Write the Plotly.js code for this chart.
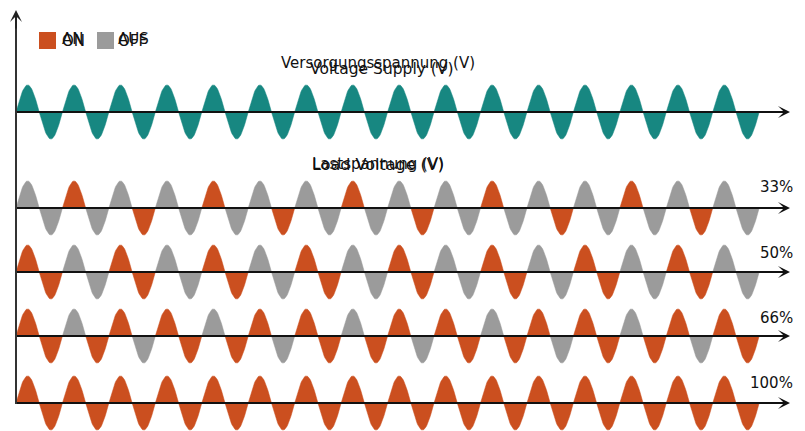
<!DOCTYPE html>
<html><head><meta charset="utf-8">
<script src="https://cdn.plot.ly/plotly-3.0.1.min.js"></script>
<style>html,body{margin:0;padding:0;background:#fff}</style>
</head><body><div id="chart" style="width:805px;height:431px"></div>
<script>
// ---- data ----
const cycles = 16;                       // full mains cycles shown
const rowLabels = ['33%', '50%', '66%', '100%'];
// per half-cycle state (1 = ON / conducting, 0 = OFF)
const load33  = [0,0,1,0,0,1,0,0,1,0,0,1,0,0,1,0,0,1,0,0,1,0,0,1,0,0,1,0,0,1,0,0];
const load50  = [1,1,0,0,1,1,0,0,1,1,0,0,1,1,0,0,1,1,0,0,1,1,0,0,1,1,0,0,1,1,0,0];
const load66  = [1,1,0,1,1,0,1,1,0,1,1,0,1,1,0,1,1,0,1,1,0,1,1,0,1,1,0,1,1,0,1,1];
const load100 = [1,1,1,1,1,1,1,1,1,1,1,1,1,1,1,1,1,1,1,1,1,1,1,1,1,1,1,1,1,1,1,1];
const legendEN = ['ON', 'OFF'];
const legendDE = ['AN', 'AUS'];
const supplyTitle = ['Voltage Supply (V)', 'Versorgungsspannung (V)'];
const loadTitle = ['Load Voltage (V)', 'Lastspannung (V)'];

// ---- style / layout constants ----
const TEAL = '#178781', ORANGE = '#CB4F1F', GRAY = '#9B9B9B';
const W = 805, H = 431;
const PX_T = 46.45, X0 = 16;      // px per cycle, x pixel of t=0
const PX_V = 27, Y0 = 403;        // px per volt unit, y pixel of v=0 (bottom row)
const base = {supply: (Y0-112)/PX_V, r33: (Y0-208)/PX_V, r50: (Y0-272)/PX_V, r66: (Y0-336)/PX_V, r100: 0};
const loads = [[load33, base.r33], [load50, base.r50], [load66, base.r66], [load100, base.r100]];

function halves(states, want, b) {
  const xs = [], ys = [];
  const N = 30;
  states.forEach((s, h) => {
    if (s !== want) return;
    for (let i = 0; i <= N; i++) {
      const t = h/2 + (i/N)*0.5;
      xs.push(t); ys.push(b + Math.sin(2*Math.PI*t));
    }
    xs.push(null); ys.push(null);
  });
  return {xs, ys};
}
function fillTrace(d, color) {
  return {x: d.xs, y: d.ys, type: 'scatter', mode: 'lines', fill: 'toself',
    fillcolor: color, line: {color: color, width: 0.5}, hoverinfo: 'skip', showlegend: false};
}

const traces = [];
const supplyStates = new Array(cycles*2).fill(1);
traces.push(fillTrace(halves(supplyStates, 1, base.supply), TEAL));
loads.forEach(([st, b]) => {
  traces.push(fillTrace(halves(st, 0, b), GRAY));
  traces.push(fillTrace(halves(st, 1, b), ORANGE));
});

const xTip = (790 - X0)/PX_T;
const yTip = (Y0 - 10)/PX_V;
const shapes = [];
const annotations = [];
[base.supply, base.r33, base.r50, base.r66, base.r100].forEach(b => {
  shapes.push({type: 'line', xref: 'x', yref: 'y', x0: 0, x1: xTip - 0.1, y0: b, y1: b,
    line: {color: '#111', width: 2}});
  annotations.push({x: xTip, y: b, xref: 'x', yref: 'y', text: '', showarrow: true,
    arrowhead: 3, arrowsize: 1, arrowwidth: 2, arrowcolor: '#111', ax: -20, ay: 0});
});
shapes.push({type: 'line', xref: 'x', yref: 'y', x0: 0, x1: 0, y0: -0.04, y1: yTip - 0.2,
  line: {color: '#333', width: 2}});
annotations.push({x: 0, y: yTip, xref: 'x', yref: 'y', text: '', showarrow: true,
  arrowhead: 3, arrowsize: 1, arrowwidth: 2, arrowcolor: '#222', ax: 0, ay: 20});

// legend squares
function px(x) { return x / W; }
function py(y) { return 1 - y / H; }
shapes.push({type: 'rect', xref: 'paper', yref: 'paper', x0: px(39), x1: px(56), y0: py(49), y1: py(32),
  fillcolor: ORANGE, line: {width: 0}});
shapes.push({type: 'rect', xref: 'paper', yref: 'paper', x0: px(97), x1: px(114), y0: py(49), y1: py(32),
  fillcolor: GRAY, line: {width: 0}});

const F = 'DejaVu Sans, Verdana, sans-serif';
function txt(text, x, y, xa, size) {
  annotations.push({text: text, x: px(x), y: py(y), xref: 'paper', yref: 'paper',
    xanchor: xa, yanchor: 'middle', showarrow: false, font: {family: F, size: size, color: '#111'}});
}
txt(legendEN[0], 60, 41, 'left', 15);
txt(legendDE[0], 60, 39, 'left', 15);
txt(legendEN[1], 116, 41, 'left', 15);
txt(legendDE[1], 116, 39, 'left', 15);
txt(supplyTitle[1], 378, 63, 'center', 15);
txt(supplyTitle[0], 382, 69, 'center', 15.5);
txt(loadTitle[1], 378, 164, 'center', 15);
txt(loadTitle[0], 378, 164, 'center', 16);
const labelY = [186.5, 252.5, 317.5, 382.5];
rowLabels.forEach((l, i) => txt(l, 795, labelY[i], 'right', 15));

const layout = {
  width: W, height: H, margin: {l: 0, r: 0, t: 0, b: 0},
  paper_bgcolor: '#fff', plot_bgcolor: '#fff', showlegend: false,
  xaxis: {range: [-X0/PX_T, (W - X0)/PX_T], visible: false, fixedrange: true},
  yaxis: {range: [-(H - Y0)/PX_V, Y0/PX_V], visible: false, fixedrange: true},
  shapes: shapes, annotations: annotations
};
Plotly.newPlot('chart', traces, layout, {displayModeBar: false, staticPlot: true});
</script></body></html>
